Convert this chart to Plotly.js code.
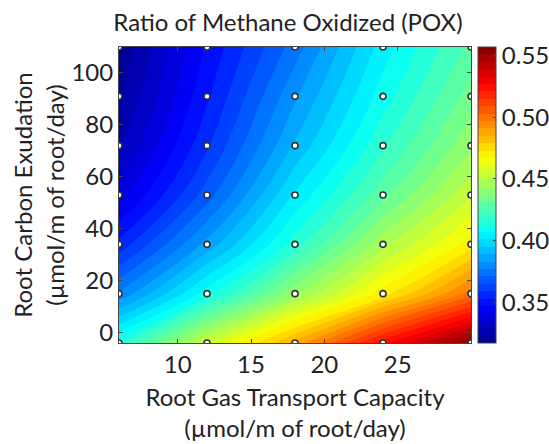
<!DOCTYPE html>
<html>
<head>
<meta charset="utf-8">
<script src="https://cdn.plot.ly/plotly-3.0.1.min.js"></script>
<style>html,body{margin:0;padding:0;background:#fff;}#chart{width:549px;height:444px;}</style>
</head>
<body>
<div id="chart"></div>
<script>
// Grid of simulated points
const transport = [6, 12, 18, 24, 30];           // Root Gas Transport Capacity
const exudation = [-4, 15, 34, 53, 72, 91, 110]; // Root Carbon Exudation
// POX ratio, rows follow exudation, columns follow transport
const pox = [
  [0.415, 0.455, 0.487, 0.525, 0.557],
  [0.378, 0.410, 0.442, 0.470, 0.500],
  [0.355, 0.385, 0.416, 0.447, 0.470],
  [0.338, 0.368, 0.402, 0.429, 0.454],
  [0.328, 0.358, 0.390, 0.418, 0.442],
  [0.322, 0.352, 0.382, 0.410, 0.434],
  [0.318, 0.348, 0.374, 0.404, 0.427]
];
const zMin = 0.317, zMax = 0.557;
const xTicks = [10, 15, 20, 25];
const yTicks = [0, 20, 40, 60, 80, 100];
const cbTicks = [0.35, 0.40, 0.45, 0.50, 0.55];

const ptsX = [], ptsY = [];
exudation.forEach(yv => transport.forEach(xv => { ptsX.push(xv); ptsY.push(yv); }));

const jet = [[0,'#00008F'],[0.125,'#0000FF'],[0.375,'#00FFFF'],[0.625,'#FFFF00'],[0.875,'#FF0000'],[1,'#800000']];
const FONT = 'Lato, "Open Sans", sans-serif';
const TXT = '#222';

const data = [
  {
    type: 'contour', x: transport, y: exudation, z: pox,
    colorscale: jet, zmin: zMin, zmax: zMax,
    contours: {start: zMin, end: zMax, size: 0.006, coloring: 'fill'},
    line: {width: 0},
    colorbar: {
      x: 1.02, xanchor: 'left', xpad: 0, y: 0.5, yanchor: 'middle', len: 1, ypad: 0,
      thickness: 18, outlinecolor: '#444', outlinewidth: 1,
      tickvals: cbTicks, ticktext: cbTicks.map(v => v.toFixed(2)),
      ticks: 'inside', ticklen: 3, tickcolor: '#444',
      tickfont: {family: FONT, size: 24, color: TXT}
    },
    hoverinfo: 'skip'
  },
  {
    type: 'scatter', mode: 'markers', x: ptsX, y: ptsY,
    marker: {size: 6, color: '#fff', line: {color: '#333', width: 1.6}},
    cliponaxis: true, showlegend: false, hoverinfo: 'skip'
  }
];

const layout = {
  width: 549, height: 444,
  margin: {l: 119, r: 78, t: 47, b: 101, autoexpand: false},
  paper_bgcolor: '#fff', plot_bgcolor: '#fff',
  showlegend: false,
  title: {text: 'Ratio of Methane Oxidized (POX)', x: 0.48, xref: 'paper', xanchor: 'center',
          y: 0.95, yref: 'container', yanchor: 'middle',
          font: {family: FONT, size: 24, color: TXT}},
  xaxis: {
    range: [6, 30], tickvals: xTicks, ticks: 'inside', ticklen: 4, tickcolor: '#444',
    showline: true, linecolor: '#444', linewidth: 1, mirror: 'ticks', showgrid: false, zeroline: false,
    tickfont: {family: FONT, size: 24, color: TXT},
    title: {text: 'Root Gas Transport Capacity<br>(µmol/m of root/day)', standoff: 12,
            font: {family: FONT, size: 24, color: TXT}}
  },
  yaxis: {
    range: [-4, 110], tickvals: yTicks, ticks: 'inside', ticklen: 4, tickcolor: '#444',
    showline: true, linecolor: '#444', linewidth: 1, mirror: 'ticks', showgrid: false, zeroline: false,
    tickfont: {family: FONT, size: 24, color: TXT},
    title: {text: 'Root Carbon Exudation<br>(µmol/m of root/day)', standoff: 0,
            font: {family: FONT, size: 24, color: TXT}}
  }
};

Plotly.newPlot('chart', data, layout, {displayModeBar: false, staticPlot: true});
</script>
</body>
</html>
